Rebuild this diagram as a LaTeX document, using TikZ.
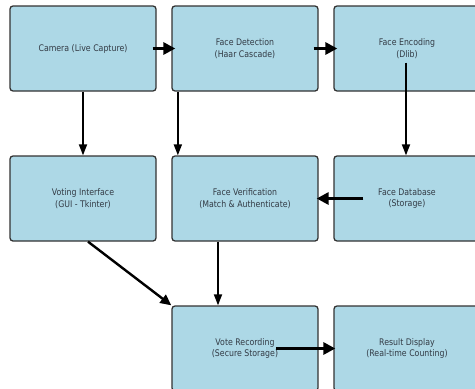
\documentclass[tikz,border=0pt]{standalone}
\usepackage{fontspec}
\setmainfont{DejaVu Sans}[FakeStretch=0.86]
\usetikzlibrary{calc,arrows.meta}
\definecolor{boxfill}{RGB}{173,216,230}
\definecolor{boxtext}{RGB}{50,58,68}
\tikzset{
  stage/.style={draw=black!80, line width=1.3pt, fill=boxfill, rounded corners=3pt,
    minimum width=146pt, minimum height=85pt, inner sep=0pt, align=center,
    text=boxtext, font=\fontsize{9.1}{11.5}\selectfont},
  flow/.style={line width=1.8pt, -{Triangle[length=11pt,width=8pt]}},
  bigflow/.style={line width=3pt, -{Triangle[length=12pt,width=12pt]}}
}
\newcommand{\stagenode}[4]{\node[stage] (#1) at ( #2 , #3 ) {#4};}

\begin{document}
\begin{tikzpicture}[x=1pt,y=-1pt]
        \useasboundingbox (0,0) rectangle (475,389);
        \clip (0,0) rectangle (475,389);

        % row1
        \stagenode{cam}{83}{48.5}{Camera (Live Capture)}
        \stagenode{fd}{245}{48.5}{Face Detection\\(Haar Cascade)}
        \stagenode{fe}{407}{48.5}{Face Encoding\\(Dlib)}

        % row2
        \stagenode{vi}{83}{198.5}{Voting Interface\\(GUI - Tkinter)}
        \stagenode{fv}{245}{198.5}{Face Verification\\(Match \& Authenticate)}
        \stagenode{fdb}{407}{198.5}{Face Database\\(Storage)}

        % row3
        \stagenode{vr}{245}{348.5}{Vote Recording\\(Secure Storage)}
        \stagenode{rd}{407}{348.5}{Result Display\\(Real-time Counting)}

        % arrows
        \draw[bigflow] ($(cam.east)+(-4,0)$) -- ($(fd.west)+(4,0)$);
        \draw[bigflow] ($(fd.east)+(-5,0)$) -- ($(fe.west)+(4,0)$);
        \draw[flow] (cam.south) -- (vi.north);
        \draw[flow] ($(fd.south west)+(6.5,0)$) -- ($(fv.north west)+(6.5,0)$);
        \draw[flow] ($(fe.center)+(-1,14)$) -- ($(fdb.north)+(-1,0)$);
        \draw[bigflow] ($(fdb.west)+(30,0)$) -- ($(fv.east)+(-2,0)$);
        \draw[line width=2.4pt, -{Triangle[length=11pt,width=10pt]}] ($(vi.south)+(5,0)$) -- (vr.north west);
        \draw[flow] ($(fv.south)+(-27,0)$) -- ($(vr.north)+(-27,0)$);
        \draw[bigflow] ($(vr.center)+(31,0)$) -- ($(rd.west)+(2,0)$);

\end{tikzpicture}
\end{document}
